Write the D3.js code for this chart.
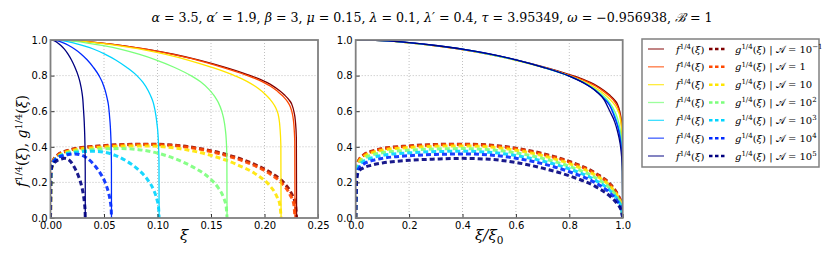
<!DOCTYPE html>
<html>
<head>
<meta charset="UTF-8">
<script src="https://d3js.org/d3.v7.min.js"></script>
<style>
  body { margin: 0; background: #fff; }
  svg { display: block; }
</style>
</head>
<body>
<svg></svg>
<script>
// ---- data ----
// A values for the seven runs (legend text), base and exponent
const aBase = ["10", "1", "10", "10", "10", "10", "10"];
const aExp  = ["\u22121", "", "", "2", "3", "4", "5"];

// end point xi_0 of each run (where f drops to zero)
const xi0 = [0.2300, 0.2285, 0.2155, 0.1650, 0.1015, 0.0570, 0.0325];

// f^{1/4} against xi/xi0
const sF = [0, 0.05, 0.1, 0.2, 0.3, 0.4, 0.5, 0.6, 0.7, 0.8, 0.85, 0.9, 0.93, 0.95, 0.97, 0.98, 0.99, 0.995, 0.999, 1];
const fRed    = [1, 0.999, 0.996, 0.984, 0.967, 0.946, 0.920, 0.888, 0.850, 0.806, 0.780, 0.745, 0.716, 0.692, 0.662, 0.640, 0.592, 0.545, 0.450, 0];
const fOrange = [1, 0.999, 0.996, 0.984, 0.967, 0.946, 0.919, 0.887, 0.848, 0.803, 0.776, 0.740, 0.710, 0.685, 0.652, 0.628, 0.580, 0.530, 0.430, 0];
const fYellow = [1, 0.999, 0.996, 0.984, 0.967, 0.946, 0.919, 0.886, 0.846, 0.799, 0.769, 0.729, 0.697, 0.670, 0.635, 0.610, 0.565, 0.510, 0.410, 0];
const fGreen  = [1, 0.999, 0.996, 0.984, 0.968, 0.947, 0.920, 0.887, 0.847, 0.797, 0.765, 0.720, 0.683, 0.650, 0.600, 0.562, 0.500, 0.445, 0.350, 0];
const fCyan   = [1, 0.999, 0.996, 0.985, 0.968, 0.948, 0.921, 0.888, 0.847, 0.797, 0.763, 0.715, 0.675, 0.640, 0.578, 0.532, 0.468, 0.405, 0.310, 0];
const fBlue   = [1, 0.999, 0.996, 0.985, 0.969, 0.948, 0.922, 0.889, 0.848, 0.797, 0.762, 0.713, 0.670, 0.635, 0.565, 0.520, 0.450, 0.390, 0.290, 0];
const fNavy   = [1, 0.999, 0.996, 0.985, 0.969, 0.949, 0.922, 0.889, 0.848, 0.797, 0.762, 0.712, 0.665, 0.605, 0.540, 0.490, 0.420, 0.360, 0.260, 0];

// g^{1/4} against xi/xi0
const sG = [0, 0.003, 0.01, 0.03, 0.06, 0.1, 0.2, 0.3, 0.4, 0.5, 0.6, 0.7, 0.8, 0.9, 0.95, 0.98, 0.995, 1];
const gRed    = [0, 0.26, 0.32, 0.355, 0.375, 0.390, 0.405, 0.413, 0.415, 0.410, 0.392, 0.362, 0.318, 0.250, 0.195, 0.135, 0.080, 0];
const gOrange = [0, 0.26, 0.32, 0.353, 0.373, 0.388, 0.403, 0.411, 0.413, 0.407, 0.389, 0.358, 0.314, 0.246, 0.190, 0.130, 0.078, 0];
const gYellow = [0, 0.25, 0.31, 0.345, 0.366, 0.381, 0.396, 0.403, 0.405, 0.399, 0.381, 0.350, 0.305, 0.238, 0.183, 0.125, 0.072, 0];
const gGreen  = [0, 0.24, 0.30, 0.333, 0.353, 0.367, 0.381, 0.388, 0.390, 0.384, 0.366, 0.335, 0.290, 0.224, 0.170, 0.115, 0.065, 0];
const gCyan   = [0, 0.23, 0.29, 0.318, 0.338, 0.352, 0.366, 0.373, 0.375, 0.369, 0.351, 0.320, 0.276, 0.210, 0.157, 0.104, 0.058, 0];
const gBlue   = [0, 0.22, 0.275, 0.303, 0.322, 0.335, 0.350, 0.357, 0.360, 0.354, 0.336, 0.305, 0.260, 0.196, 0.144, 0.094, 0.050, 0];
const gNavy   = [0, 0.20, 0.26, 0.282, 0.297, 0.309, 0.324, 0.331, 0.335, 0.330, 0.312, 0.280, 0.237, 0.175, 0.125, 0.078, 0.040, 0];

const fRows = [fRed, fOrange, fYellow, fGreen, fCyan, fBlue, fNavy];
const gRows = [gRed, gOrange, gYellow, gGreen, gCyan, gBlue, gNavy];

// tick labels
const yTicks = [0, 0.2, 0.4, 0.6, 0.8, 1.0];
const xTicksLeft = [0, 0.05, 0.10, 0.15, 0.20, 0.25];
const xTicksRight = [0, 0.2, 0.4, 0.6, 0.8, 1.0];

// title parameters
const titleParams = [
  ["\u03b1", "3.5"], ["\u03b1\u2032", "1.9"], ["\u03b2", "3"], ["\u03bc", "0.15"],
  ["\u03bb", "0.1"], ["\u03bb\u2032", "0.4"], ["\u03c4", "3.95349"],
  ["\u03c9", "\u22120.956938"], ["\u212c", "1"]
];

// ---- style ----
const colors = ["#800000", "#ff4800", "#ffe500", "#7bff7b", "#00d4ff", "#002aff", "#000080"];
const width = 830, height = 260;
const yTop = 40, yBot = 218;
const mathFont = "'DejaVu Serif', serif";
const tickFont = "'DejaVu Sans', sans-serif";

const svg = d3.select("svg").attr("width", width).attr("height", height)
  .attr("viewBox", [0, 0, width, height]);

// rich text helper: segments [text, italic, sup/sub]
function rich(sel, segs, size) {
  let shift = 0;
  segs.forEach(([t, it, pos]) => {
    const want = pos === "sup" ? -0.38 * size : pos === "sub" ? 0.25 * size : 0;
    sel.append("tspan")
      .attr("dy", want - shift)
      .attr("font-style", it ? "italic" : "normal")
      .attr("font-size", pos ? size * 0.7 : size)
      .text(t);
    shift = want;
  });
}

const y = d3.scaleLinear().domain([0, 1]).range([yBot, yTop]);
const xL = d3.scaleLinear().domain([0, 0.25]).range([50.5, 318]);
const xR = d3.scaleLinear().domain([0, 1]).range([355.7, 622.7]);

function panel(x, xTicks, xFmt, id, useXi0) {
  const g = svg.append("g");
  const [x0, x1] = x.range();
  // grid
  g.append("g").selectAll("line").data(xTicks.slice(1, -1)).join("line")
    .attr("x1", d => x(d)).attr("x2", d => x(d)).attr("y1", yTop).attr("y2", yBot)
    .attr("stroke", "#b0b0b0").attr("stroke-width", 0.8).attr("stroke-dasharray", "1,2");
  g.append("g").selectAll("line").data(yTicks.slice(1, -1)).join("line")
    .attr("y1", d => y(d)).attr("y2", d => y(d)).attr("x1", x0).attr("x2", x1)
    .attr("stroke", "#b0b0b0").attr("stroke-width", 0.8).attr("stroke-dasharray", "1,2");

  svg.append("clipPath").attr("id", id).append("rect")
    .attr("x", x0).attr("y", yTop).attr("width", x1 - x0).attr("height", yBot - yTop);

  const lines = g.append("g").attr("clip-path", `url(#${id})`);
  fRows.forEach((row, i) => {
    const k = useXi0 ? xi0[i] : 1;
    const fLine = d3.line().x((d, j) => x(sF[j] * k)).y(d => y(d)).curve(d3.curveMonotoneX);
    const gLine = d3.line().x((d, j) => x(sG[j] * k)).y(d => y(d)).curve(d3.curveMonotoneX);
    lines.append("path").attr("d", fLine(row)).attr("fill", "none")
      .attr("stroke", colors[i]).attr("stroke-width", 1.3);
    lines.append("path").attr("d", gLine(gRows[i])).attr("fill", "none")
      .attr("stroke", colors[i]).attr("stroke-width", 3).attr("stroke-dasharray", "5,3")
      .attr("stroke-opacity", 0.9);
  });

  // axes
  g.append("g").attr("transform", `translate(0,${yBot})`)
    .call(d3.axisBottom(x).tickValues(xTicks).tickFormat(xFmt).tickSize(-4).tickPadding(4))
    .call(a => a.select(".domain").remove())
    .call(a => a.selectAll("line").attr("stroke", "#333"))
    .call(a => a.selectAll("text").attr("font-family", tickFont).attr("font-size", 10).attr("fill", "#000"));
  g.append("g").attr("transform", `translate(${x0},0)`)
    .call(d3.axisLeft(y).tickValues(yTicks).tickFormat(d3.format(".1f")).tickSize(-4).tickPadding(3))
    .call(a => a.select(".domain").remove())
    .call(a => a.selectAll("line").attr("stroke", "#333"))
    .call(a => a.selectAll("text").attr("font-family", tickFont).attr("font-size", 10).attr("fill", "#000"));
  g.append("rect").attr("x", x0).attr("y", yTop).attr("width", x1 - x0).attr("height", yBot - yTop)
    .attr("fill", "none").attr("stroke", "#808080").attr("stroke-width", 1.8);
}

panel(xL, xTicksLeft, d3.format(".2f"), "clipL", true);
panel(xR, xTicksRight, d3.format(".1f"), "clipR", false);

// axis labels
rich(svg.append("text").attr("x", d3.mean(xL.range())).attr("y", 240)
  .attr("text-anchor", "middle").attr("font-family", mathFont), [["\u03be", true]], 15);
rich(svg.append("text").attr("x", d3.mean(xR.range())).attr("y", 240)
  .attr("text-anchor", "middle").attr("font-family", mathFont),
  [["\u03be/\u03be", true], ["0", false, "sub"]], 15);
rich(svg.append("text").attr("transform", "translate(27,141) rotate(-90)")
  .attr("text-anchor", "middle").attr("font-family", mathFont),
  [["f", true], ["1/4", false, "sup"], ["(", false], ["\u03be", true], ["),  ", false],
   ["g", true], ["1/4", false, "sup"], ["(", false], ["\u03be", true], [")", false]], 14);

// title
const titleSegs = [];
titleParams.forEach(([s, v], i) => {
  titleSegs.push([s, true]);
  titleSegs.push([" = " + v + (i < titleParams.length - 1 ? ",  " : ""), false]);
});
const title = svg.append("text").attr("x", 432).attr("y", 22)
  .attr("text-anchor", "middle").attr("font-family", mathFont);
rich(title, titleSegs, 13);
const tl = title.node().getComputedTextLength();
title.selectAll("tspan").attr("font-size", 13 * 561 / tl);

// legend
const leg = svg.append("g");
leg.append("rect").attr("x", 642).attr("y", 39).attr("width", 177).attr("height", 128)
  .attr("fill", "#fff").attr("stroke", "#808080").attr("stroke-width", 1.5);
const rowY = d3.scaleLinear().domain([0, 6]).range([49, 156]);
colors.forEach((c, i) => {
  const ry = rowY(i);
  leg.append("line").attr("x1", 648).attr("x2", 664).attr("y1", ry).attr("y2", ry)
    .attr("stroke", c).attr("stroke-width", 1.3).attr("stroke-opacity", 0.75);
  rich(leg.append("text").attr("x", 676).attr("y", ry + 3.5).attr("font-family", mathFont),
    [["f", true], ["1/4", false, "sup"], ["(", false], ["\u03be", true], [")", false]], 10);
  leg.append("line").attr("x1", 709).attr("x2", 725).attr("y1", ry).attr("y2", ry)
    .attr("stroke", c).attr("stroke-width", 2.5).attr("stroke-dasharray", "3.5,2.5");
  const segs = [["g", true], ["1/4", false, "sup"], ["(", false], ["\u03be", true], [")  |  ", false],
    ["\ud835\udc9c", false], [" = " + aBase[i], false]];
  if (aExp[i]) segs.push([aExp[i], false, "sup"]);
  rich(leg.append("text").attr("x", 735).attr("y", ry + 3.5).attr("font-family", mathFont), segs, 10);
});
</script>
</body>
</html>
